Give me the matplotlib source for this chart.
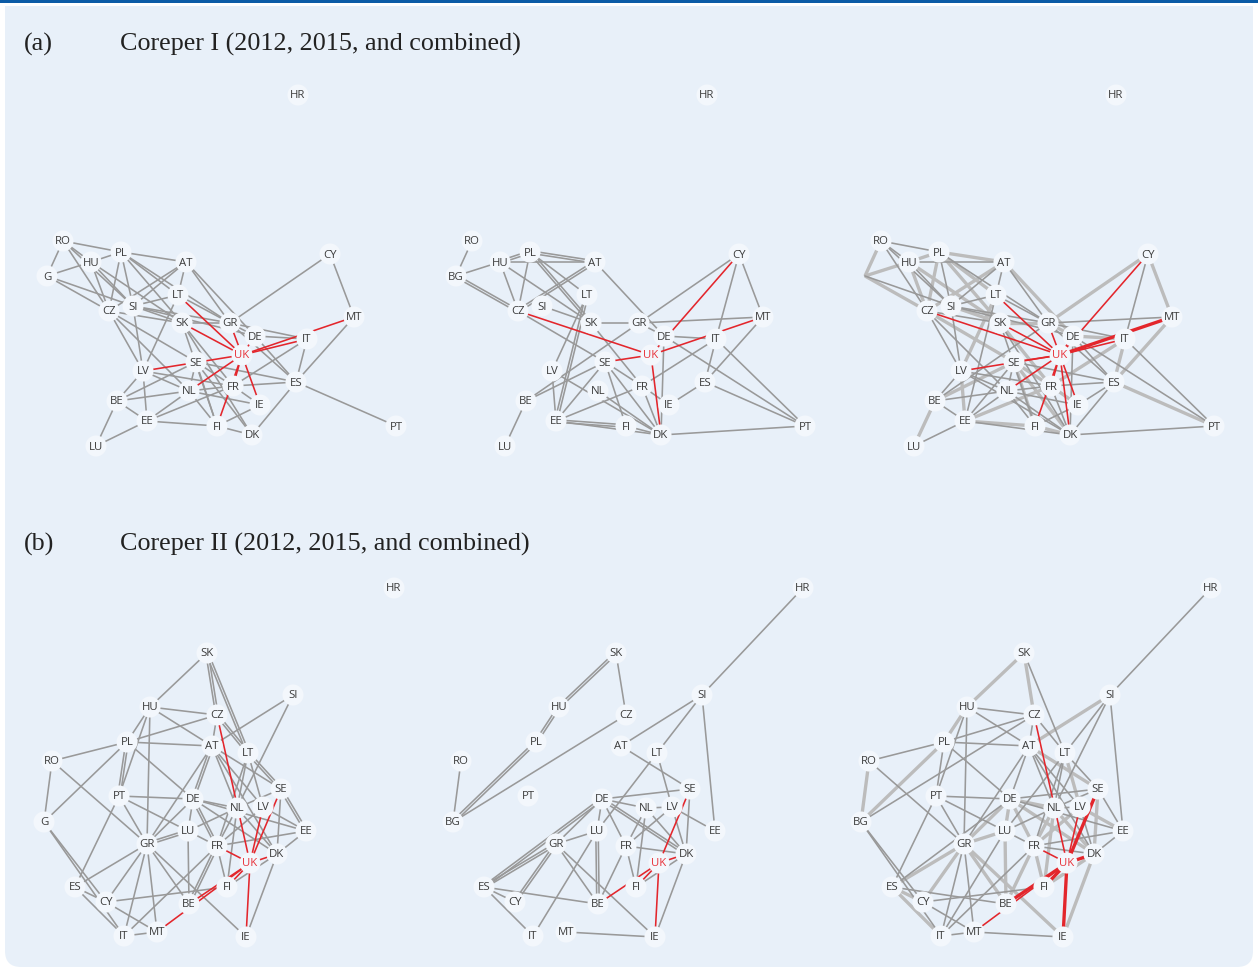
import numpy as np
import matplotlib
matplotlib.use('Agg')
import matplotlib.pyplot as plt
from matplotlib.patches import FancyBboxPatch, Rectangle

# ---- node layout, Coreper I (same layout in all three panels) ----
a_nodes = ['RO', 'PL', 'HU', 'BG', 'AT', 'LT', 'SI', 'CZ', 'SK', 'GR', 'DE', 'IT', 'MT', 'CY',
           'UK', 'SE', 'LV', 'NL', 'FR', 'ES', 'BE', 'IE', 'EE', 'FI', 'DK', 'PT', 'LU', 'HR']
a_x = [63, 121, 91, 47, 186, 178, 133, 109, 182, 230, 255, 307, 354, 330,
       242, 196, 143, 189, 233, 296, 117, 260, 147, 217, 252, 396, 96, 298]
a_y = [242, 253, 263, 277, 263, 296, 307, 312, 324, 324, 337, 340, 318, 255,
       356, 363, 372, 392, 387, 383, 402, 406, 422, 427, 436, 427, 447, 96]

# ---- node layout, Coreper II ----
b_nodes = ['SK', 'SI', 'HU', 'CZ', 'PL', 'AT', 'LT', 'RO', 'SE', 'PT', 'DE', 'NL', 'LV', 'BG',
           'EE', 'LU', 'GR', 'FR', 'DK', 'UK', 'FI', 'ES', 'CY', 'BE', 'IT', 'MT', 'IE', 'HR']
b_x = [207, 293, 150, 217, 127, 212, 248, 52, 281, 119, 193, 237, 263, 44,
       306, 188, 147, 217, 277, 250, 227, 75, 106, 189, 124, 157, 246, 394]
b_y = [654, 696, 708, 716, 743, 747, 754, 762, 790, 797, 800, 809, 808, 823,
       832, 832, 845, 847, 855, 864, 888, 888, 903, 905, 937, 933, 938, 589]

# ties (a pair listed twice = tie in both directions)
a_2012 = ['RO-PL', 'RO-BG', 'RO-HU', 'RO-CZ', 'RO-SI', 'BG-HU', 'BG-SI', 'BG-CZ', 'HU-PL',
          'HU-CZ', 'HU-SI', 'HU-SK', 'PL-AT', 'PL-CZ', 'PL-SI', 'PL-LT', 'PL-SK', 'PL-GR',
          'AT-SI', 'AT-CZ', 'AT-LT', 'AT-GR', 'AT-DE', 'LT-LV', 'LT-SI', 'LT-GR', 'LT-UK',
          'SI-SK', 'SI-GR', 'SI-DE', 'SI-LV', 'CZ-LV', 'CZ-SE', 'CZ-NL', 'CZ-SK', 'SK-UK',
          'SK-FR', 'SK-FI', 'SK-DK', 'SK-GR', 'GR-UK', 'GR-CY', 'GR-IT', 'GR-DE', 'GR-ES',
          'DE-IT', 'DE-UK', 'DE-ES', 'UK-IT', 'UK-MT', 'UK-LV', 'UK-NL', 'UK-FR', 'UK-IE',
          'UK-FI', 'IT-ES', 'IT-FR', 'CY-MT', 'MT-ES', 'ES-PT', 'ES-FR', 'ES-DK', 'ES-SE',
          'SE-NL', 'SE-FR', 'SE-FI', 'SE-DK', 'SE-BE', 'LV-BE', 'LV-EE', 'LV-NL', 'LV-FR',
          'NL-BE', 'NL-FR', 'NL-IE', 'NL-FI', 'NL-EE', 'BE-EE', 'BE-LU', 'EE-LU', 'EE-FI',
          'EE-FR', 'FI-DK', 'FI-IE', 'FR-IE']
a_2015 = ['RO-BG', 'BG-HU', 'BG-CZ', 'BG-CZ', 'HU-PL', 'HU-PL', 'HU-AT', 'HU-CZ', 'HU-SK',
          'PL-AT', 'PL-AT', 'PL-CZ', 'PL-LT', 'PL-SK', 'PL-SK', 'AT-CZ', 'AT-CZ', 'AT-DE',
          'LT-LV', 'LT-EE', 'LT-EE', 'SI-SK', 'CZ-UK', 'CZ-SE', 'SK-GR', 'SK-FR', 'GR-MT',
          'GR-CY', 'GR-DE', 'GR-BE', 'CY-UK', 'DE-IT', 'DE-PT', 'DE-DK', 'UK-SE', 'UK-MT',
          'UK-DK', 'CY-IT', 'CY-MT', 'IT-PT', 'IT-FR', 'IT-ES', 'MT-ES', 'ES-PT', 'ES-IE',
          'SE-BE', 'SE-EE', 'SE-FI', 'SE-DK', 'SE-FR', 'LV-DK', 'LV-EE', 'NL-DK', 'FR-EE',
          'FR-DK', 'FR-IE', 'BE-LU', 'EE-FI', 'EE-FI', 'EE-DK', 'FI-DK', 'DK-PT']
b_2012 = ['SK-HU', 'SK-CZ', 'SK-CZ', 'SK-LT', 'SK-LT', 'SI-AT', 'SI-NL', 'HU-CZ', 'HU-AT',
          'HU-PL', 'HU-PT', 'HU-GR', 'CZ-PL', 'CZ-AT', 'CZ-LT', 'CZ-LT', 'CZ-UK', 'PL-RO',
          'PL-BG', 'PL-AT', 'PL-PT', 'PL-PT', 'PL-DE', 'RO-BG', 'RO-GR', 'AT-GR', 'AT-DE',
          'AT-DE', 'AT-NL', 'AT-LV', 'AT-SE', 'AT-DK', 'LT-SE', 'LT-SE', 'LT-NL', 'LT-FR',
          'LT-LV', 'SE-UK', 'SE-EE', 'SE-EE', 'SE-DK', 'SE-NL', 'PT-DE', 'PT-GR', 'PT-LU',
          'PT-ES', 'DE-NL', 'DE-EE', 'DE-DK', 'DE-LU', 'DE-FR', 'DE-FR', 'DE-GR', 'NL-LU',
          'NL-FR', 'NL-DK', 'NL-FI', 'LV-UK', 'LV-EE', 'LV-FR', 'BG-CY', 'BG-IT', 'EE-FR',
          'EE-DK', 'LU-GR', 'LU-GR', 'LU-BE', 'LU-FR', 'GR-ES', 'GR-CY', 'GR-IT', 'GR-MT',
          'GR-BE', 'GR-IE', 'FR-UK', 'FR-BE', 'FR-BE', 'FR-IT', 'FR-FI', 'DK-UK', 'DK-FI',
          'DK-IE', 'UK-FI', 'UK-BE', 'UK-MT', 'UK-IE', 'ES-CY', 'ES-IT', 'CY-FI', 'CY-MT',
          'IT-MT']
b_2015 = ['HR-SI', 'SK-HU', 'SK-HU', 'SK-CZ', 'HU-PL', 'HU-PL', 'PL-BG', 'PL-BG', 'CZ-BG',
          'RO-BG', 'SI-AT', 'SI-LT', 'SI-EE', 'AT-SE', 'LT-LU', 'LT-LV', 'SE-DE', 'SE-UK',
          'SE-DK', 'DE-NL', 'DE-LU', 'DE-FR', 'DE-DK', 'DE-DK', 'DE-ES', 'DE-ES', 'DE-GR',
          'NL-LV', 'NL-FI', 'NL-DK', 'NL-FR', 'LV-FR', 'LV-EE', 'LV-DK', 'LU-GR', 'LU-BE',
          'LU-BE', 'LU-IT', 'GR-ES', 'GR-ES', 'GR-CY', 'GR-CY', 'GR-BE', 'GR-IE', 'FR-DK',
          'FR-FI', 'FR-BE', 'UK-DK', 'UK-FI', 'UK-BE', 'UK-IE', 'DK-IE', 'DK-FI', 'ES-CY',
          'ES-BE', 'ES-IT', 'MT-IE']

a_labels = [{'BG': 'G'}, {}, {'BG': ''}]
b_labels = [{'BG': 'G'}, {}, {}]

GREY = '#999999'
GREY_LIGHT = '#bcbcbc'
RED = '#e3262c'
BG_COL = '#e8f0f9'


def count_ties(ties):
    out = {}
    for t in ties:
        key = tuple(sorted(t.split('-')))
        out[key] = out.get(key, 0) + 1
    return out


def draw_net(ax, nodes, xs, ys, ties, labels, combined=False):
    pos = {n: (x, y) for n, x, y in zip(nodes, xs, ys)}
    for (u, v), n in ties.items():
        (x0, y0), (x1, y1) = pos[u], pos[v]
        red = 'UK' in (u, v)
        if combined:
            # n = number of years the tie shows up in
            if n >= 2:
                ax.plot([x0, x1], [y0, y1], color=RED if red else GREY_LIGHT,
                        lw=2.4, solid_capstyle='butt', zorder=1 + red)
            else:
                ax.plot([x0, x1], [y0, y1], color=RED if red else GREY,
                        lw=1.15, zorder=1.5 + red)
        else:
            d = np.hypot(x1 - x0, y1 - y0)
            nx_, ny_ = -(y1 - y0) / d, (x1 - x0) / d
            for i in range(n):
                off = (i - (n - 1) / 2) * 2.4
                ax.plot([x0 + nx_ * off, x1 + nx_ * off], [y0 + ny_ * off, y1 + ny_ * off],
                        color=RED if red else GREY, lw=1.15, zorder=1 + red)
    for n, x, y in zip(nodes, xs, ys):
        txt = labels.get(n, n)
        if not txt:
            continue
        ax.scatter([x], [y], s=230, color='#f3f7fc', edgecolors='none', zorder=4)
        ax.text(x, y, txt, ha='center', va='center', fontsize=8.2, family='Open Sans',
                color='#e8343c' if n == 'UK' else '#3c3c3c', zorder=5)


fig = plt.figure(figsize=(12.58, 9.70), dpi=100)
fig.patch.set_facecolor('white')

# frame with the blue rule on top
bg = fig.add_axes([0, 0, 1, 1])
bg.set_xlim(0, 1258)
bg.set_ylim(970, 0)
bg.axis('off')
bg.add_patch(FancyBboxPatch((5, 7), 1248, 961, boxstyle='round,pad=0,rounding_size=16',
                            facecolor=BG_COL, edgecolor='none'))
bg.add_patch(Rectangle((5, 7), 1248, 40, facecolor=BG_COL, edgecolor='none'))
bg.add_patch(Rectangle((0, 0), 1258, 3.5, facecolor='#0b5ba6', edgecolor='none'))
serif = 'Liberation Serif'
for y, tag, title in [(44, '(a)', 'Coreper I (2012, 2015, and combined)'),
                      (544, '(b)', 'Coreper II (2012, 2015, and combined)')]:
    bg.text(24, y, tag, fontsize=18.8, family=serif, color='#222222', va='center')
    bg.text(120, y, title, fontsize=18.8, family=serif, color='#222222', va='center')

rows = [
    (a_nodes, a_x, a_y, a_2012, a_2015, a_labels, (80, 470), [0, 409, 818]),
    (b_nodes, b_x, b_y, b_2012, b_2015, b_labels, (575, 955), [0, 409, 817]),
]
for nodes, xs, ys, t12, t15, labs, (top, bot), shifts in rows:
    c12, c15 = count_ties(t12), count_ties(t15)
    comb = {}
    for d in (c12, c15):
        for k in d:
            comb[k] = comb.get(k, 0) + 1
    for k, (ties, is_comb) in enumerate([(c12, False), (c15, False), (comb, True)]):
        left = 20 + shifts[k]
        ax = fig.add_axes([left / 1258, 1 - bot / 970, 400 / 1258, (bot - top) / 970])
        ax.set_xlim(20, 420)
        ax.set_ylim(bot, top)
        ax.axis('off')
        draw_net(ax, nodes, xs, ys, ties, labs[k], combined=is_comb)

fig.savefig('out.png', dpi=100, facecolor='white')
